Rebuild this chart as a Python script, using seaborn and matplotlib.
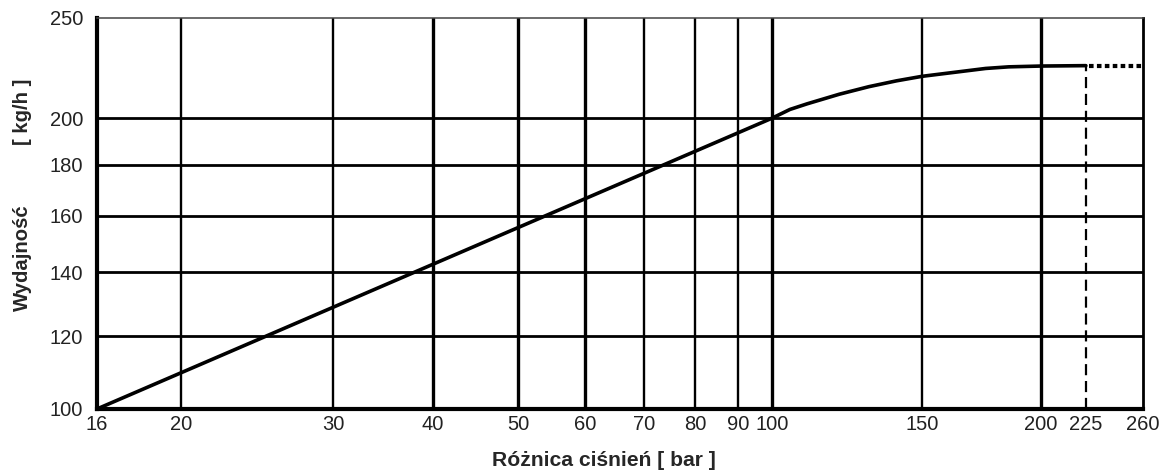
import matplotlib
matplotlib.use('Agg')
import matplotlib.pyplot as plt
import seaborn as sns
import numpy as np
import pandas as pd
from matplotlib.ticker import FixedLocator, NullLocator

# curve: output [kg/h] vs pressure difference [bar]
pressure = [16, 100, 105, 110, 120, 130, 140, 150, 175, 185, 200, 225]
output = [100, 200, 204.0, 206.6, 211.1, 214.7, 217.5, 219.7, 223.6, 224.4, 224.8, 225]
limit_pressure = 225
max_pressure = 260

x_ticks = [16, 20, 30, 40, 50, 60, 70, 80, 90, 100, 150, 200, 225, 260]
y_ticks = [100, 120, 140, 160, 180, 200, 250]
thick_x = [40, 50, 60, 100, 200]

# the printed grid is only roughly logarithmic: where each x grid line sits
# as a fraction of the axis width
x_grid_frac = [0, 0.0803, 0.2256, 0.3212, 0.4025, 0.467, 0.5234, 0.5717,
               0.6133, 0.6453, 0.7887, 0.9025, 0.9455, 1.0]
LOGX = np.log10(x_ticks)


def fwd_x(x):
    with np.errstate(divide="ignore", invalid="ignore"):
        return np.interp(np.log10(np.clip(x, 1e-9, None)), LOGX, x_grid_frac)


def inv_x(f):
    return 10 ** np.interp(f, x_grid_frac, LOGX)


def fwd_y(y):
    with np.errstate(divide="ignore", invalid="ignore"):
        return np.log10(np.clip(np.asarray(y) + 30, 1e-9, None))


def inv_y(v):
    return 10 ** np.asarray(v) - 30


sns.set_theme(style="white")
plt.rcParams["font.family"] = ["Liberation Sans", "DejaVu Sans"]

df = pd.DataFrame({"p": pressure, "q": output})

fig = plt.figure(figsize=(11.71, 4.72), dpi=100)
ax = fig.add_axes([0.0828, 0.1335, 0.8932, 0.8284])
ax.set_xscale("function", functions=(fwd_x, inv_x))
ax.set_yscale("function", functions=(fwd_y, inv_y))
ax.set_xlim(16, max_pressure)
ax.set_ylim(100, 250)

# grid
for xv in x_ticks[1:-1]:
    if xv == limit_pressure:
        continue
    ax.axvline(xv, color="black", lw=2.4 if xv in thick_x else 1.7, zorder=1)
for yv in y_ticks[1:-1]:
    ax.axhline(yv, color="black", lw=2.0, zorder=1)

sns.lineplot(data=df, x="p", y="q", ax=ax, color="black", lw=2.6, zorder=3)
ax.plot([limit_pressure, limit_pressure], [100, output[-1]], color="black",
        lw=1.6, ls=(0, (5, 2.6)), zorder=3)
ax.plot([limit_pressure + 2, max_pressure], [output[-1], output[-1]], color="black",
        lw=3.0, ls=(0, (1.1, 0.8)), zorder=3)

ax.xaxis.set_major_locator(FixedLocator(x_ticks))
ax.xaxis.set_minor_locator(NullLocator())
ax.yaxis.set_major_locator(FixedLocator(y_ticks))
ax.yaxis.set_minor_locator(NullLocator())
ax.set_xticklabels([str(v) for v in x_ticks])
ax.set_yticklabels([str(v) for v in y_ticks])
ax.tick_params(axis="both", length=0, labelsize=14.5, colors="#222222")
ax.tick_params(axis="x", pad=4)
ax.tick_params(axis="y", pad=10)

for side in ["left", "bottom"]:
    ax.spines[side].set_linewidth(3.0)
    ax.spines[side].set_color("black")
ax.spines["right"].set_linewidth(2.0)
ax.spines["right"].set_color("black")
ax.spines["top"].set_linewidth(1.1)
ax.spines["top"].set_color("#444444")

ax.set_xlabel("")
ax.set_ylabel("")
fig.text(0.5158, 0.024, "Różnica ciśnień [ bar ]", ha="center", va="center",
         fontsize=15.2, fontweight="bold")
fig.text(0.019, 0.455, "Wydajność", rotation=90, ha="center", va="center",
         fontsize=14.6, fontweight="bold")
fig.text(0.019, 0.763, "[ kg/h ]", rotation=90, ha="center", va="center",
         fontsize=14.6, fontweight="bold")

fig.savefig("out.png", dpi=100)
